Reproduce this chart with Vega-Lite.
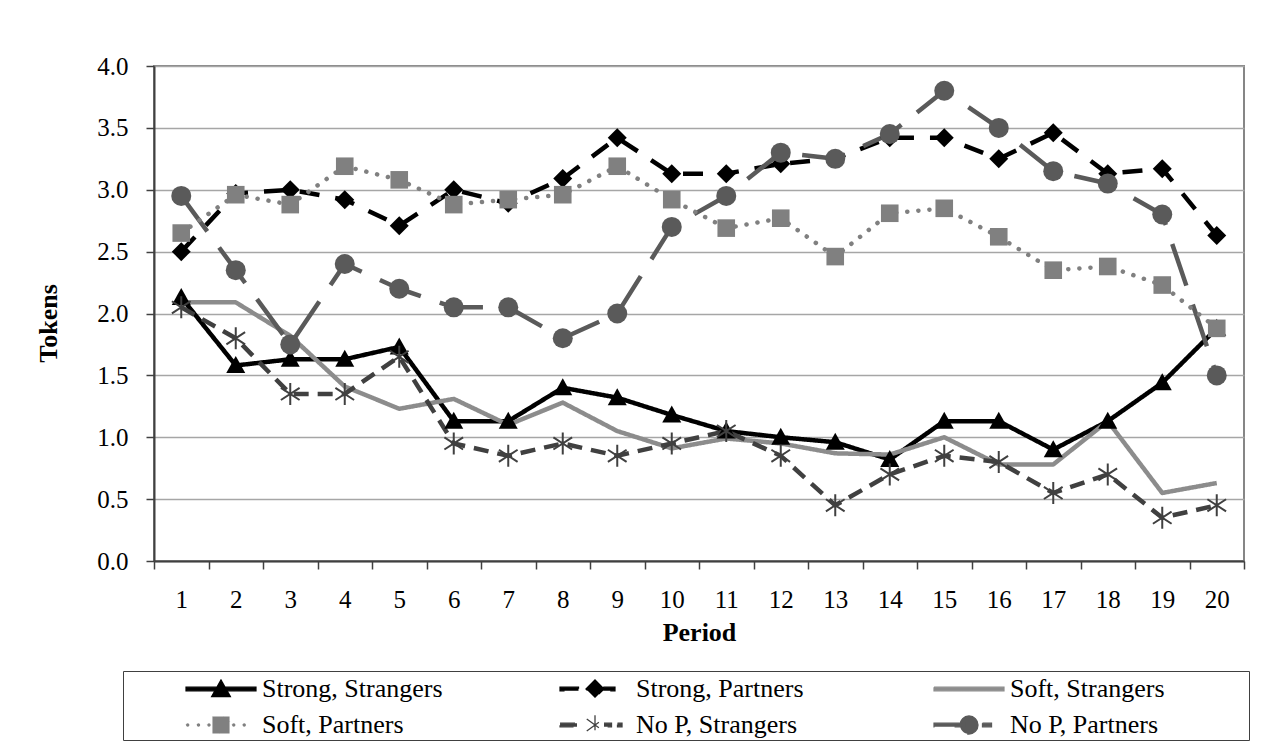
{
  "$schema": "https://vega.github.io/schema/vega-lite/v6.json",
  "width": 1090,
  "height": 495,
  "autosize": {"type": "none"},
  "padding": {"left": 154, "top": 66, "right": 24, "bottom": 187},
  "background": "white",
  "config": {"font": "Liberation Serif", "view": {"stroke": "#868686", "strokeWidth": 2}},
  "data": {"values": [
    {"period":1,"series":"Strong, Strangers","value":2.13},{"period":2,"series":"Strong, Strangers","value":1.58},{"period":3,"series":"Strong, Strangers","value":1.63},{"period":4,"series":"Strong, Strangers","value":1.63},{"period":5,"series":"Strong, Strangers","value":1.73},{"period":6,"series":"Strong, Strangers","value":1.13},{"period":7,"series":"Strong, Strangers","value":1.13},{"period":8,"series":"Strong, Strangers","value":1.40},{"period":9,"series":"Strong, Strangers","value":1.32},{"period":10,"series":"Strong, Strangers","value":1.18},{"period":11,"series":"Strong, Strangers","value":1.05},{"period":12,"series":"Strong, Strangers","value":1.00},{"period":13,"series":"Strong, Strangers","value":0.96},{"period":14,"series":"Strong, Strangers","value":0.82},{"period":15,"series":"Strong, Strangers","value":1.13},{"period":16,"series":"Strong, Strangers","value":1.13},{"period":17,"series":"Strong, Strangers","value":0.90},{"period":18,"series":"Strong, Strangers","value":1.13},{"period":19,"series":"Strong, Strangers","value":1.44},{"period":20,"series":"Strong, Strangers","value":1.88},
    {"period":1,"series":"Strong, Partners","value":2.50},{"period":2,"series":"Strong, Partners","value":2.97},{"period":3,"series":"Strong, Partners","value":3.00},{"period":4,"series":"Strong, Partners","value":2.92},{"period":5,"series":"Strong, Partners","value":2.71},{"period":6,"series":"Strong, Partners","value":3.00},{"period":7,"series":"Strong, Partners","value":2.89},{"period":8,"series":"Strong, Partners","value":3.09},{"period":9,"series":"Strong, Partners","value":3.42},{"period":10,"series":"Strong, Partners","value":3.13},{"period":11,"series":"Strong, Partners","value":3.13},{"period":12,"series":"Strong, Partners","value":3.21},{"period":13,"series":"Strong, Partners","value":3.25},{"period":14,"series":"Strong, Partners","value":3.42},{"period":15,"series":"Strong, Partners","value":3.42},{"period":16,"series":"Strong, Partners","value":3.25},{"period":17,"series":"Strong, Partners","value":3.46},{"period":18,"series":"Strong, Partners","value":3.13},{"period":19,"series":"Strong, Partners","value":3.17},{"period":20,"series":"Strong, Partners","value":2.63},
    {"period":1,"series":"Soft, Strangers","value":2.09},{"period":2,"series":"Soft, Strangers","value":2.09},{"period":3,"series":"Soft, Strangers","value":1.82},{"period":4,"series":"Soft, Strangers","value":1.41},{"period":5,"series":"Soft, Strangers","value":1.23},{"period":6,"series":"Soft, Strangers","value":1.31},{"period":7,"series":"Soft, Strangers","value":1.10},{"period":8,"series":"Soft, Strangers","value":1.28},{"period":9,"series":"Soft, Strangers","value":1.05},{"period":10,"series":"Soft, Strangers","value":0.91},{"period":11,"series":"Soft, Strangers","value":0.99},{"period":12,"series":"Soft, Strangers","value":0.95},{"period":13,"series":"Soft, Strangers","value":0.87},{"period":14,"series":"Soft, Strangers","value":0.86},{"period":15,"series":"Soft, Strangers","value":1.00},{"period":16,"series":"Soft, Strangers","value":0.78},{"period":17,"series":"Soft, Strangers","value":0.78},{"period":18,"series":"Soft, Strangers","value":1.13},{"period":19,"series":"Soft, Strangers","value":0.55},{"period":20,"series":"Soft, Strangers","value":0.63},
    {"period":1,"series":"Soft, Partners","value":2.65},{"period":2,"series":"Soft, Partners","value":2.96},{"period":3,"series":"Soft, Partners","value":2.88},{"period":4,"series":"Soft, Partners","value":3.19},{"period":5,"series":"Soft, Partners","value":3.08},{"period":6,"series":"Soft, Partners","value":2.88},{"period":7,"series":"Soft, Partners","value":2.92},{"period":8,"series":"Soft, Partners","value":2.96},{"period":9,"series":"Soft, Partners","value":3.19},{"period":10,"series":"Soft, Partners","value":2.92},{"period":11,"series":"Soft, Partners","value":2.69},{"period":12,"series":"Soft, Partners","value":2.77},{"period":13,"series":"Soft, Partners","value":2.46},{"period":14,"series":"Soft, Partners","value":2.81},{"period":15,"series":"Soft, Partners","value":2.85},{"period":16,"series":"Soft, Partners","value":2.62},{"period":17,"series":"Soft, Partners","value":2.35},{"period":18,"series":"Soft, Partners","value":2.38},{"period":19,"series":"Soft, Partners","value":2.23},{"period":20,"series":"Soft, Partners","value":1.88},
    {"period":1,"series":"No P, Strangers","value":2.05},{"period":2,"series":"No P, Strangers","value":1.80},{"period":3,"series":"No P, Strangers","value":1.35},{"period":4,"series":"No P, Strangers","value":1.35},{"period":5,"series":"No P, Strangers","value":1.65},{"period":6,"series":"No P, Strangers","value":0.95},{"period":7,"series":"No P, Strangers","value":0.85},{"period":8,"series":"No P, Strangers","value":0.95},{"period":9,"series":"No P, Strangers","value":0.85},{"period":10,"series":"No P, Strangers","value":0.95},{"period":11,"series":"No P, Strangers","value":1.05},{"period":12,"series":"No P, Strangers","value":0.85},{"period":13,"series":"No P, Strangers","value":0.45},{"period":14,"series":"No P, Strangers","value":0.70},{"period":15,"series":"No P, Strangers","value":0.85},{"period":16,"series":"No P, Strangers","value":0.80},{"period":17,"series":"No P, Strangers","value":0.55},{"period":18,"series":"No P, Strangers","value":0.70},{"period":19,"series":"No P, Strangers","value":0.35},{"period":20,"series":"No P, Strangers","value":0.45},
    {"period":1,"series":"No P, Partners","value":2.95},{"period":2,"series":"No P, Partners","value":2.35},{"period":3,"series":"No P, Partners","value":1.75},{"period":4,"series":"No P, Partners","value":2.40},{"period":5,"series":"No P, Partners","value":2.20},{"period":6,"series":"No P, Partners","value":2.05},{"period":7,"series":"No P, Partners","value":2.05},{"period":8,"series":"No P, Partners","value":1.80},{"period":9,"series":"No P, Partners","value":2.00},{"period":10,"series":"No P, Partners","value":2.70},{"period":11,"series":"No P, Partners","value":2.95},{"period":12,"series":"No P, Partners","value":3.30},{"period":13,"series":"No P, Partners","value":3.25},{"period":14,"series":"No P, Partners","value":3.45},{"period":15,"series":"No P, Partners","value":3.80},{"period":16,"series":"No P, Partners","value":3.50},{"period":17,"series":"No P, Partners","value":3.15},{"period":18,"series":"No P, Partners","value":3.05},{"period":19,"series":"No P, Partners","value":2.80},{"period":20,"series":"No P, Partners","value":1.50}
  ]},
  "encoding": {
    "x": {
      "field": "period", "type": "ordinal",
      "scale": {"type": "band", "paddingInner": 0, "paddingOuter": 0},
      "bandPosition": 0.5,
      "axis": {
        "title": "Period", "titleFont": "Liberation Serif", "titleFontSize": 26, "titleFontWeight": "bold", "titleColor": "#000000",
        "titleY": 71, "titleBaseline": "middle",
        "labelAngle": 0, "labelFont": "Liberation Serif", "labelFontSize": 25, "labelColor": "#000000", "labelPadding": 18,
        "tickBand": "extent", "tickSize": 8, "tickColor": "#404040", "tickWidth": 1.5,
        "domainColor": "#404040", "domainWidth": 2, "grid": false
      }
    },
    "y": {
      "field": "value", "type": "quantitative",
      "scale": {"domain": [0, 4], "nice": false, "zero": true},
      "axis": {
        "values": [0, 0.5, 1, 1.5, 2, 2.5, 3, 3.5, 4], "format": ".1f",
        "title": "Tokens", "titleFont": "Liberation Serif", "titleFontSize": 26, "titleFontWeight": "bold", "titleColor": "#000000",
        "titleX": -106, "titleY": 257, "titleAngle": 270, "titleBaseline": "middle", "titleAlign": "center",
        "labelFont": "Liberation Serif", "labelFontSize": 25, "labelColor": "#000000", "labelPadding": 18,
        "tickSize": 8, "tickColor": "#404040", "tickWidth": 1.5,
        "domainColor": "#404040", "domainWidth": 2,
        "grid": true, "gridColor": "#a6a6a6", "gridWidth": 1.3
      }
    },
    "color": {
      "field": "series", "type": "nominal",
      "scale": {
        "domain": ["Strong, Strangers", "Strong, Partners", "Soft, Strangers", "Soft, Partners", "No P, Strangers", "No P, Partners"],
        "range": ["#000000", "#000000", "#8c8c8c", "#808080", "#404040", "#5a5a5a"]
      },
      "legend": {
        "title": "\u00a0", "titleOrient": "right", "titlePadding": 82, "titleFontSize": 10,
        "orient": "none", "legendX": -31, "legendY": 605,
        "direction": "horizontal", "columns": 3, "gridAlign": "all",
        "padding": 2, "strokeColor": "#404040", "fillColor": "white",
        "labelFont": "Liberation Serif", "labelFontSize": 26, "labelColor": "#000000", "labelLimit": 500,
        "symbolSize": 900, "symbolOffset": 80, "labelOffset": 25, "rowPadding": 7, "columnPadding": 56,
        "encoding": {
          "symbols": {
            "shape": {"value": {"expr": "datum.value === 'Strong, Strangers' ? 'M-2.33,-0.12H2.33V0.12H-2.33Z M0,-0.6L0.62,0.5H-0.62Z' : datum.value === 'Strong, Partners' ? 'M-2.33,-0.12H-1.1V0.12H-2.33Z M0.55,-0.12H1.33V0.12H0.55Z M0,-0.6L0.6,0L0,0.6L-0.6,0Z' : datum.value === 'Soft, Strangers' ? 'M-2.33,-0.12H2.33V0.12H-2.33Z' : datum.value === 'Soft, Partners' ? 'M-2.33,0A0.11,0.11 0 1,1 -2.11,0A0.11,0.11 0 1,1 -2.33,0Z M-1.61,0A0.11,0.11 0 1,1 -1.39,0A0.11,0.11 0 1,1 -1.61,0Z M-0.91,0A0.11,0.11 0 1,1 -0.69,0A0.11,0.11 0 1,1 -0.91,0Z M0.74,0A0.11,0.11 0 1,1 0.96,0A0.11,0.11 0 1,1 0.74,0Z M1.44,0A0.11,0.11 0 1,1 1.66,0A0.11,0.11 0 1,1 1.44,0Z M-0.57,-0.57H0.57V0.57H-0.57Z' : datum.value === 'No P, Strangers' ? 'M-2.33,-0.12H-1.2V0.12H-2.33Z M0.6,-0.12H1.1V0.12H0.6Z M1.5,-0.12H1.8V0.12H1.5Z M0,-0.65V0.65 M-0.55,-0.4L0.55,0.4 M-0.55,0.4L0.55,-0.4' : 'M-2.33,-0.12H-0.3V0.12H-2.33Z M0.9,-0.12H1.5V0.12H0.9Z M-0.6,0A0.6,0.6 0 1,1 0.6,0A0.6,0.6 0 1,1 -0.6,0Z'"}},
            "fill": {"value": {"expr": "scale('color', datum.value)"}},
            "stroke": {"value": {"expr": "scale('color', datum.value)"}},
            "strokeWidth": {"value": 1.3},
            "strokeDash": {"value": []},
            "size": {"value": 900},
            "opacity": {"value": 1}
          }
        }
      }
    }
  },
  "layer": [
    {
      "transform": [{"filter": {"not": {"field": "series", "equal": "Soft, Partners"}}}],
      "mark": {"type": "line", "strokeWidth": 4.5, "strokeCap": "butt", "strokeJoin": "round"},
      "encoding": {
        "strokeDash": {
          "field": "series", "type": "nominal", "legend": null,
          "scale": {
            "domain": ["Strong, Strangers", "Strong, Partners", "Soft, Strangers", "Soft, Partners", "No P, Strangers", "No P, Partners"],
            "range": [[1, 0], [20, 16], [1, 0], [0.1, 11], [15, 9], [44, 20]]
          }
        }
      }
    },
    {
      "transform": [{"filter": {"field": "series", "equal": "Soft, Partners"}}],
      "mark": {"type": "line", "strokeWidth": 4.5, "strokeCap": "round", "strokeDash": [0.1, 11]},
      "encoding": {}
    },
    {
      "transform": [{"filter": {"field": "series", "oneOf": ["Strong, Strangers", "Strong, Partners", "Soft, Partners", "No P, Partners"]}}],
      "mark": {"type": "point", "filled": true, "size": 400, "opacity": 1},
      "encoding": {
        "shape": {
          "field": "series", "type": "nominal", "legend": null,
          "scale": {
            "domain": ["Strong, Strangers", "Strong, Partners", "Soft, Partners", "No P, Partners"],
            "range": ["M0,-0.95L0.95,0.75L-0.95,0.75Z", "M0,-0.95L0.95,0L0,0.95L-0.95,0Z", "M-0.88,-0.88H0.88V0.88H-0.88Z", "circle"]
          }
        }
      }
    },
    {
      "transform": [{"filter": {"field": "series", "equal": "No P, Strangers"}}],
      "mark": {"type": "point", "filled": false, "size": 484, "strokeWidth": 2, "opacity": 1, "shape": "M0,-1V1M-0.85,-0.55L0.85,0.55M-0.85,0.55L0.85,-0.55"},
      "encoding": {}
    }
  ]
}
